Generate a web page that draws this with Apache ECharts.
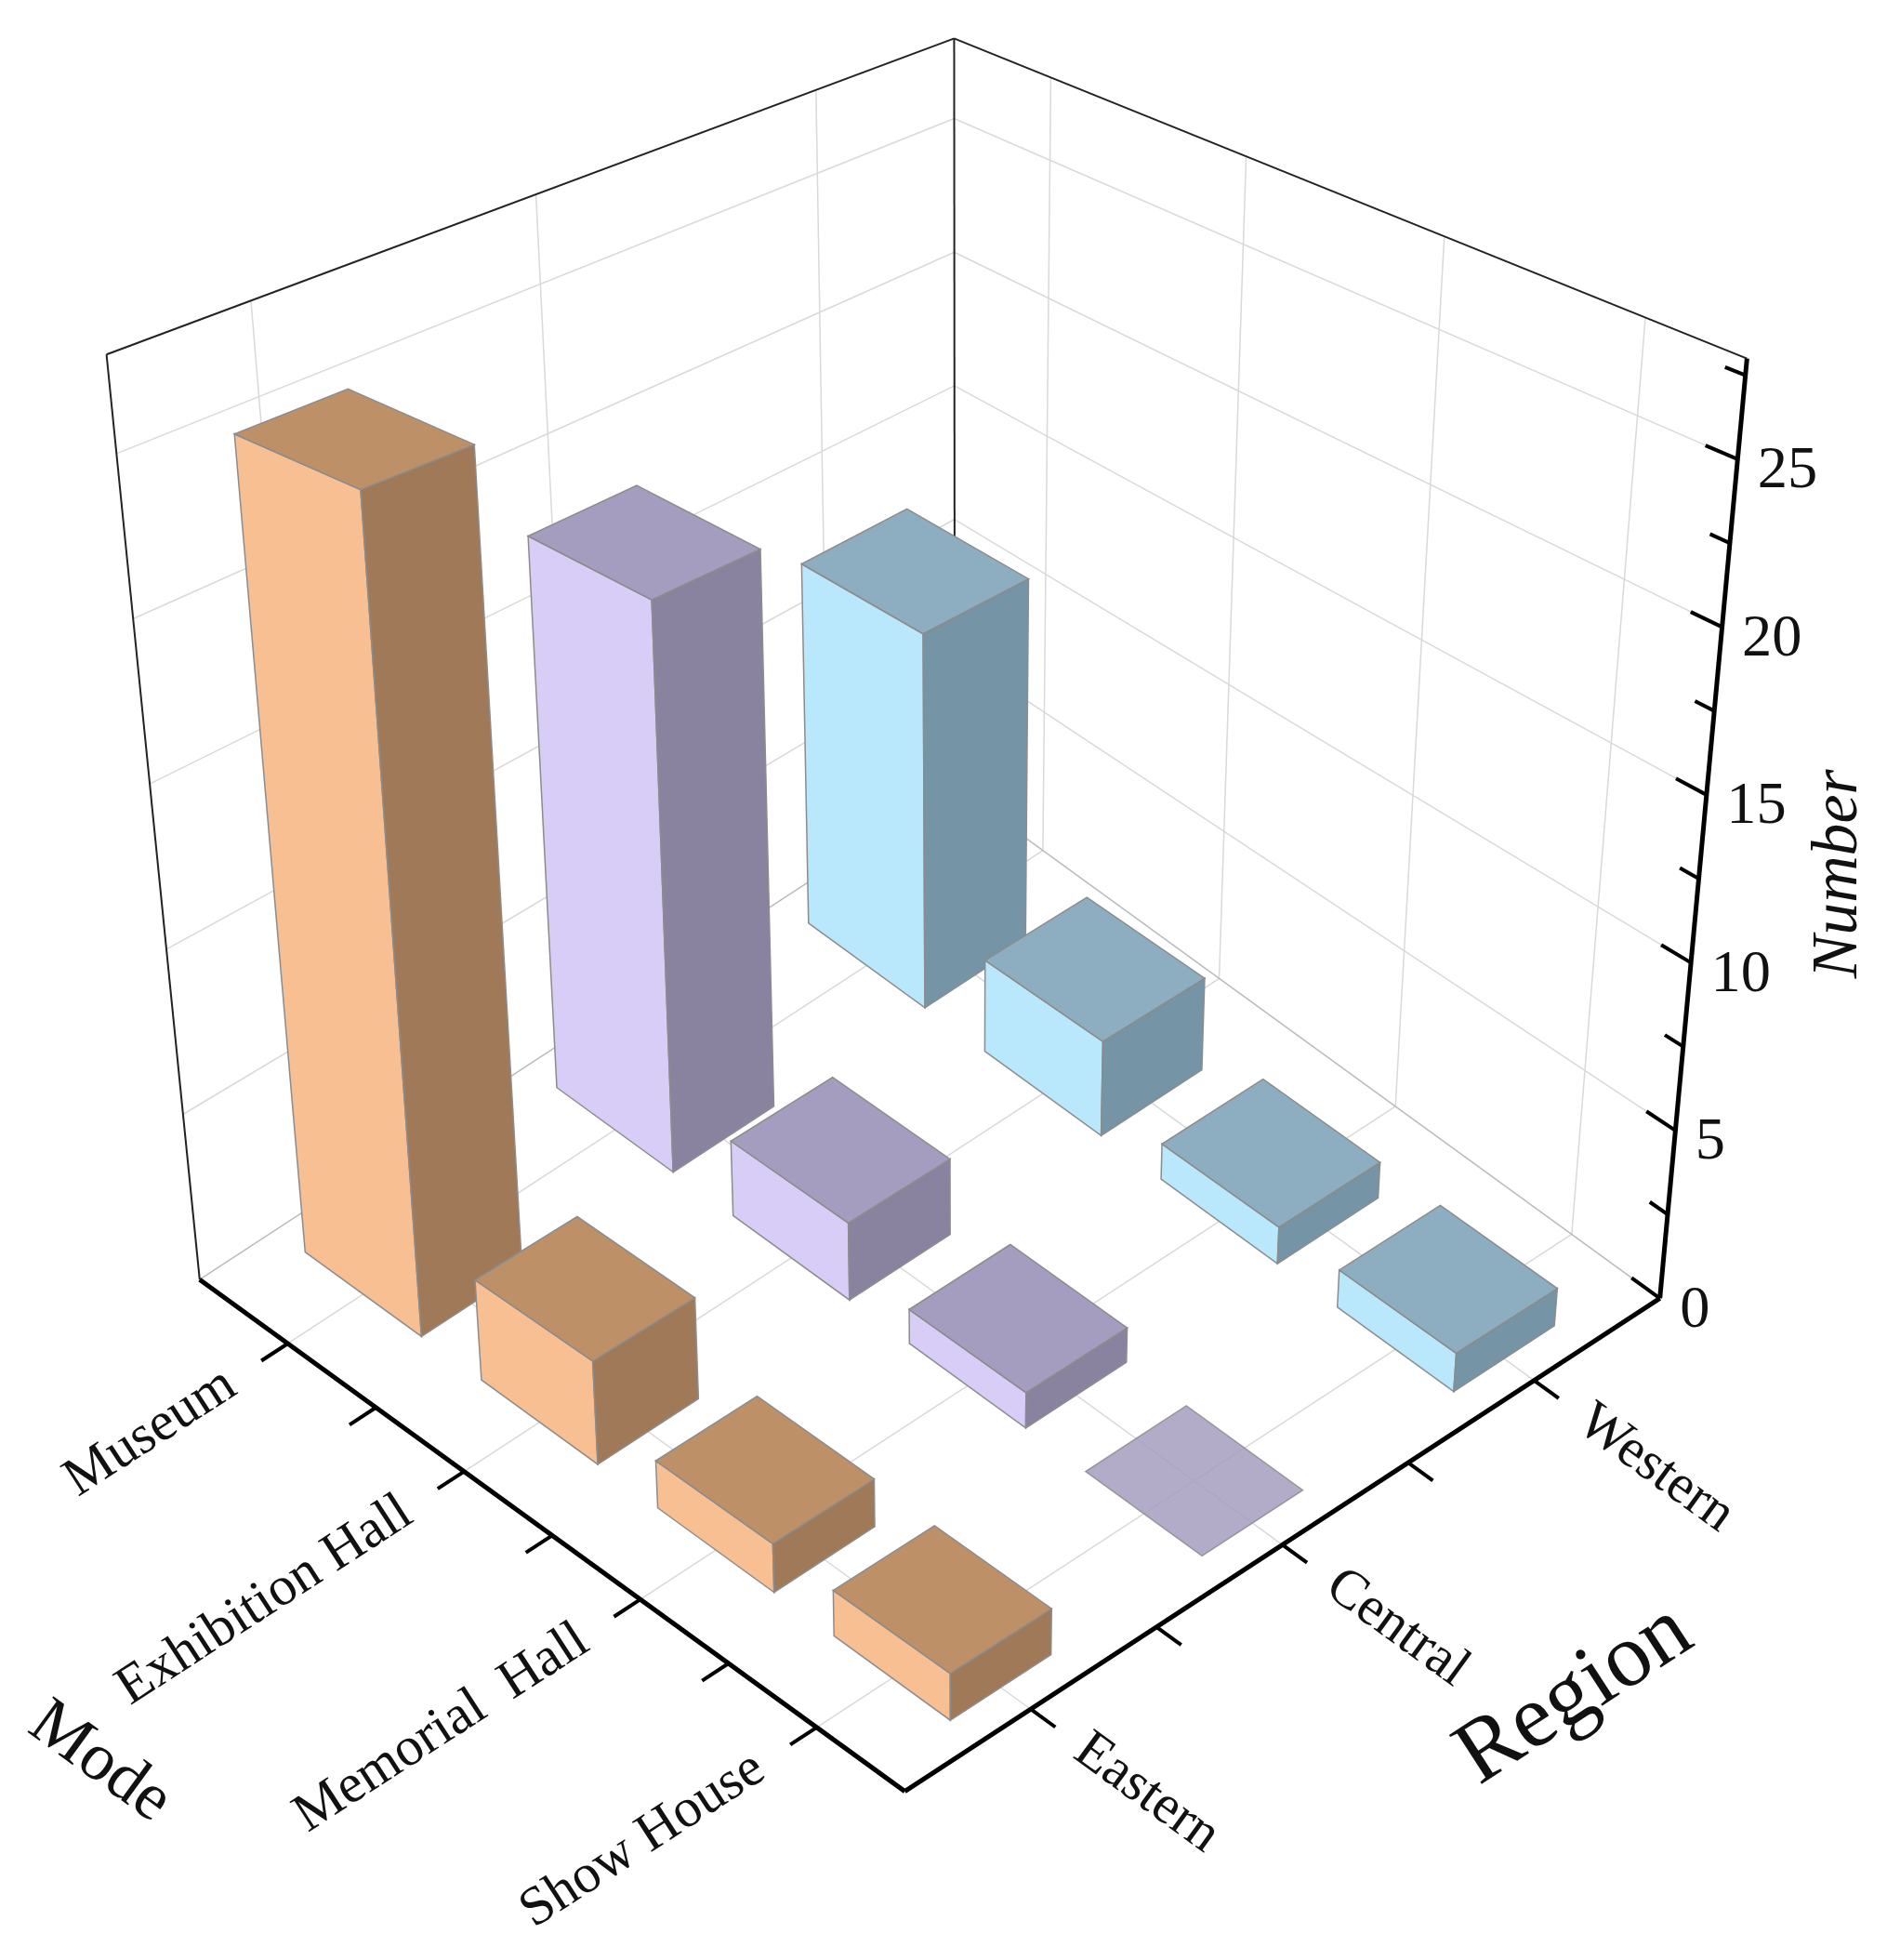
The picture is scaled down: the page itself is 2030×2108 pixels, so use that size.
<!DOCTYPE html>
<html>
<head>
<meta charset="utf-8">
<script src="https://cdn.jsdelivr.net/npm/echarts@6/dist/echarts.min.js"></script>
<style>
  html, body { margin: 0; padding: 0; background: #fff; }
  #chart { width: 2030px; height: 2108px; }
</style>
</head>
<body>
<div id="chart"></div>
<script>
// data
var modes = ['Museum', 'Exhibition Hall', 'Memorial  Hall', 'Show House'];
var regions = ['Eastern', 'Central', 'Western'];
var eastern = [25, 2.9, 1.3, 1.2];
var central = [18, 2.3, 1.0, 0];
var western = [12.6, 3.0, 1.1, 1.1];
var zTicks = [0, 5, 10, 15, 20, 25];
var zMax = 28;

var regionValues = [eastern, central, western];
var faceColors = [
    { light: '#f8bf93', dark: '#a07a58', top: '#be9068' },
    { light: '#d7cdf6', dark: '#8a83a0', top: '#a49dbf' },
    { light: '#b9e7fb', dark: '#7594a6', top: '#8daec1' }
];

var FONT = '"Liberation Serif", "DejaVu Serif", serif';

// projection of (m along Mode axis, r along Region axis, z value) to screen px
// base geometry measured in a 1512 wide frame, scaled to the canvas
var A = [160, 1025], F = [725, 1435], R = [1330, 1040], V = [770, 7080];
var kA = 26.6, kB = 21.4, kR = 27, kF = 32;
var S = 1;

function proj(m, r, z) {
    var bx = A[0] + m * (F[0] - A[0]) + r * (R[0] - F[0]);
    var by = A[1] + m * (F[1] - A[1]) + r * (R[1] - F[1]);
    var k = (1 - m) * (1 - r) * kA + (1 - m) * r * kB + m * r * kR + m * (1 - r) * kF;
    var dx = bx - V[0], dy = by - V[1];
    var len = Math.sqrt(dx * dx + dy * dy);
    var h = z * k;
    return [(bx + dx / len * h) * S, (by + dy / len * h) * S];
}
function mC(i) { return (i + 0.5) / modes.length; }
function rC(j) { return (j + 0.5) / regions.length; }

function line(p, q, color, w) {
    return { type: 'line', shape: { x1: p[0], y1: p[1], x2: q[0], y2: q[1] },
        style: { stroke: color, lineWidth: w } };
}
function poly(pts, fill, opacity) {
    return { type: 'polygon', shape: { points: pts },
        style: { fill: fill, stroke: '#8c8c8c', lineWidth: 1.5, opacity: opacity == null ? 1 : opacity } };
}
function text(p, str, size, align, rot, extra) {
    var st = { text: str, fill: '#111', font: (extra || '') + ' ' + size + 'px ' + FONT,
        align: align, verticalAlign: 'middle' };
    return { type: 'text', x: p[0], y: p[1], rotation: rot, style: st };
}

function renderFrame(params, api) {
    S = api.getWidth() / 1512;
    var ch = [];
    var grid = '#d9d9d9';
    // walls + floor grid
    zTicks.slice(1).forEach(function (z) {
        ch.push(line(proj(0, 0, z), proj(0, 1, z), grid, 1.5));
        ch.push(line(proj(0, 1, z), proj(1, 1, z), grid, 1.5));
    });
    regions.forEach(function (_, j) {
        ch.push(line(proj(0, rC(j), 0), proj(0, rC(j), zMax), grid, 1.5));
        ch.push(line(proj(0, rC(j), 0), proj(1, rC(j), 0), grid, 1.5));
    });
    modes.forEach(function (_, i) {
        ch.push(line(proj(mC(i), 1, 0), proj(mC(i), 1, zMax), grid, 1.5));
        ch.push(line(proj(mC(i), 0, 0), proj(mC(i), 1, 0), grid, 1.5));
    });
    ch.push(line(proj(0, 0, 0), proj(0, 1, 0), '#bbb', 1.5));
    ch.push(line(proj(0, 1, 0), proj(1, 1, 0), '#bbb', 1.5));
    // box edges
    ch.push(line(proj(0, 0, 0), proj(0, 0, zMax), '#222', 2));
    ch.push(line(proj(0, 1, 0), proj(0, 1, zMax), '#222', 2));
    ch.push(line(proj(0, 0, zMax), proj(0, 1, zMax), '#222', 2));
    ch.push(line(proj(0, 1, zMax), proj(1, 1, zMax), '#222', 2));
    // main axes
    ch.push(line(proj(0, 0, 0), proj(1, 0, 0), '#000', 5));
    ch.push(line(proj(1, 0, 0), proj(1, 1, 0), '#000', 5));
    ch.push(line(proj(1, 1, 0), proj(1, 1, zMax), '#000', 5));

    // mode ticks + labels
    for (var t = 1; t < modes.length * 2; t++) {
        var m = t / (modes.length * 2);
        ch.push(line(proj(m, 0, 0), proj(m, -0.035, 0), '#000', 4));
    }
    var fs = 44 * S;
    modes.forEach(function (name, i) {
        ch.push(text(proj(mC(i), -0.075, 0), name, fs, 'right', 33 * Math.PI / 180));
    });
    // region ticks + labels
    for (var t2 = 1; t2 < regions.length * 2; t2++) {
        var r = t2 / (regions.length * 2);
        ch.push(line(proj(1, r, 0), proj(1.035, r, 0), '#000', 4));
    }
    regions.forEach(function (name, j) {
        ch.push(text(proj(1.07, rC(j), 0), name, fs, 'left', -36 * Math.PI / 180));
    });
    // z ticks + labels
    for (var z = 0; z <= 27.5; z += 2.5) {
        var major = z % 5 === 0;
        ch.push(line(proj(1, 1, z), proj(major ? 0.96 : 0.975, 1, z), '#000', 4));
    }
    zTicks.forEach(function (z) {
        var p = proj(1, 1, z);
        ch.push(text([p[0] + 16 * S, p[1] + 10 * S], String(z), 48 * S, 'left', 0));
    });
    // axis titles
    ch.push(text([1474 * S, 700 * S], 'Number', 52 * S, 'center', Math.PI / 2, 'italic'));
    ch.push(text([1262 * S, 1358 * S], 'Region', 72 * S, 'center', 33 * Math.PI / 180));
    ch.push(text([80 * S, 1412 * S], 'Mode', 54 * S, 'center', -36 * Math.PI / 180));
    return { type: 'group', children: ch };
}

// bar data, painted back to front
var barData = [];
regionValues.forEach(function (vals, j) {
    vals.forEach(function (v, i) { barData.push([i, j, v]); });
});
barData.sort(function (a, b) { return (mC(a[0]) - rC(a[1])) - (mC(b[0]) - rC(b[1])); });

var halfM = 0.33 / modes.length, halfR = 0.2 / regions.length;

function renderBar(params, api) {
    S = api.getWidth() / 1512;
    var i = api.value(0), j = api.value(1), v = api.value(2);
    var c = faceColors[j];
    var m0 = mC(i) - halfM, m1 = mC(i) + halfM, r0 = rC(j) - halfR, r1 = rC(j) + halfR;
    var ch = [];
    if (v > 0) {
        ch.push(poly([proj(m0, r0, 0), proj(m1, r0, 0), proj(m1, r0, v), proj(m0, r0, v)], c.light));
        ch.push(poly([proj(m1, r0, 0), proj(m1, r1, 0), proj(m1, r1, v), proj(m1, r0, v)], c.dark));
    }
    ch.push(poly([proj(m0, r0, v), proj(m1, r0, v), proj(m1, r1, v), proj(m0, r1, v)], c.top, v > 0 ? 1 : 0.85));
    return { type: 'group', children: ch };
}

var chart = echarts.init(document.getElementById('chart'));
chart.setOption({
    backgroundColor: '#fff',
    animation: false,
    series: [
        { type: 'custom', coordinateSystem: 'none', renderItem: renderFrame, data: [[0]], silent: true },
        { type: 'custom', coordinateSystem: 'none', renderItem: renderBar, data: barData, silent: true }
    ]
});
</script>
</body>
</html>
